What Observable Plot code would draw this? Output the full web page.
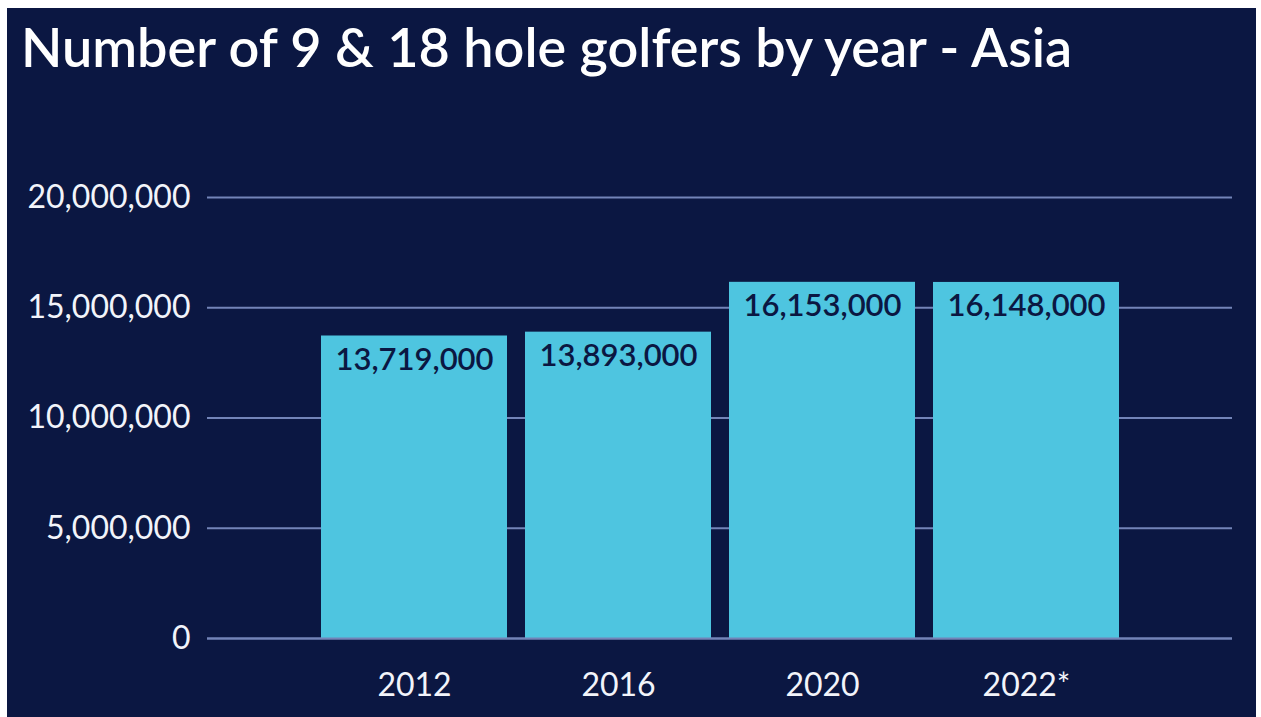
<!DOCTYPE html>
<html>
<head>
<meta charset="utf-8">
<script src="https://cdn.jsdelivr.net/npm/d3@7"></script>
<script src="https://cdn.jsdelivr.net/npm/@observablehq/plot@0.6"></script>
<style>
  html, body { margin: 0; padding: 0; background: #ffffff; }
  body { width: 1261px; height: 717px; position: relative; overflow: hidden; font-family: Lato, sans-serif; }
  #panel { position: absolute; left: 7px; top: 8px; width: 1249px; height: 709px; background: #0b1742; }
  #title { position: absolute; left: 14px; top: 6px; color: #ffffff; font-size: 54px; font-weight: 600; white-space: nowrap; letter-spacing: 0px; }
  #chart { position: absolute; left: 0px; top: 142px; }
</style>
</head>
<body>
<div id="panel">
  <div id="title">Number of 9 &amp; 18 hole golfers by year - Asia</div>
  <div id="chart"></div>
</div>
<script>
const years = ["2012", "2016", "2020", "2022*"];
const golfers = [13719000, 13893000, 16153000, 16148000];
const yTicks = [0, 5000000, 10000000, 15000000, 20000000];

const data = years.map((y, i) => ({year: y, value: golfers[i]}));
const fmt = d3.format(",");

const chart = Plot.plot({
  width: 1249,
  height: 567,
  marginLeft: 200,
  marginRight: 24,
  marginTop: 47,
  marginBottom: 79,
  style: {background: "transparent", color: "#ffffff", fontFamily: "Lato, sans-serif", fontSize: "32px"},
  x: {domain: years, paddingInner: 0.09, paddingOuter: 0.55, label: null},
  y: {domain: [0, 20000000], label: null},
  marks: [
    Plot.ruleY(yTicks, {stroke: "#7384b8", strokeWidth: 2}),
    Plot.barY(data, {x: "year", y: "value", fill: "#4ec5e0"}),
    Plot.ruleY([0], {stroke: "#7384b8", strokeWidth: 2}),
    Plot.text(data, {x: "year", y: "value", text: d => fmt(d.value), lineAnchor: "top", dy: 12, fill: "#0b1742", fontSize: 31, fontWeight: 600}),
    Plot.axisY({ticks: yTicks, tickFormat: fmt, tickSize: 0, tickPadding: 17, fontSize: 32, fill: "#f2f4fa"}),
    Plot.axisX({tickSize: 0, tickPadding: 35, fontSize: 32, fill: "#f2f4fa"})
  ]
});
document.getElementById("chart").appendChild(chart);
</script>
</body>
</html>
